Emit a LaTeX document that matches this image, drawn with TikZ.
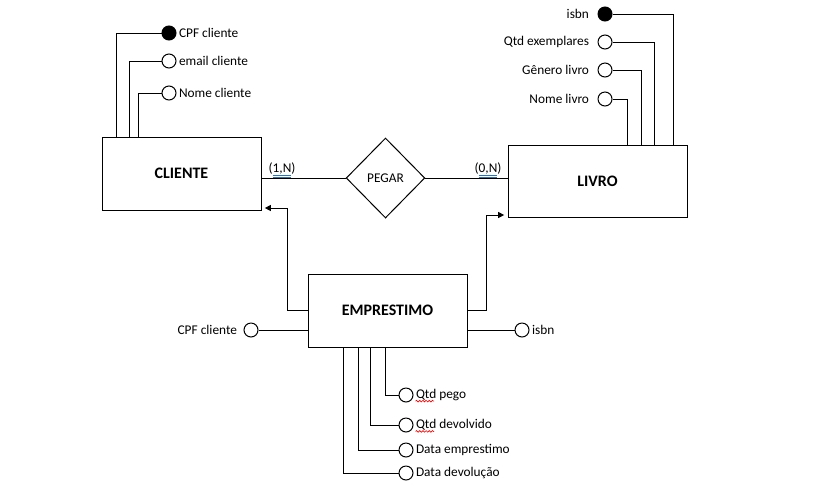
\documentclass[tikz,border=0pt]{standalone}
\usepackage{fontspec}
\setmainfont{Carlito}
\usetikzlibrary{shapes.geometric,positioning,arrows.meta,decorations.pathmorphing}
\definecolor{dblblue}{RGB}{46,116,181}
\newcommand{\DBL}[1]{\setbox0=\hbox{#1}\rlap{\color{dblblue}\rule[-2pt]{\wd0}{0.4pt}}\rlap{\color{dblblue}\rule[-3.3pt]{\wd0}{0.4pt}}\box0}

\begin{document}
\begin{tikzpicture}[x=0.75pt,y=-0.75pt,line width=0.75pt,font=\fontsize{10}{12}\selectfont,
   entity/.style={draw,rectangle,inner sep=0pt,font=\fontsize{12}{14}\selectfont\bfseries},
   rel/.style={draw,diamond,minimum width=59pt,minimum height=60pt,inner sep=0pt},
   attr/.style={draw,circle,minimum size=10.5pt,inner sep=0pt},
   keyattr/.style={attr,fill=black},
   lbl/.style={inner sep=1pt},
   arr/.style={-{Triangle[length=4.5pt,width=4.5pt]},shorten >=2.5pt},
   wavy/.style={red,line width=0.5pt,decorate,decoration={snake,amplitude=0.6pt,segment length=2.4pt}}]
   \useasboundingbox (0,0) rectangle (837,497);

   % entities and relationship
   \node (cliente) at (181.5,173.5) [entity,minimum width=119.25pt,minimum height=54.75pt] {CLIENTE};
   \node (livro) at (597.5,181) [entity,minimum width=134.25pt,minimum height=54pt] {LIVRO};
   \node (emprestimo) at (387.5,310.5) [entity,minimum width=119.25pt,minimum height=54.75pt] {EMPRESTIMO};
   \node (pegar) at (385.5,178) [rel] {PEGAR};
   \node (cardc) at (282,170) [lbl] {(\DBL{1,N})};
   \node (cardl) at (488,170) [lbl] {(\DBL{0,N})};
   \draw (pegar.west) -- (pegar.west -| cliente.east);
   \draw (pegar.east) -- (pegar.east -| livro.west);
   \draw[arr] (emprestimo.west) -| (287,208) -- (cliente.east |- 287,208);
   \draw[arr] (emprestimo.east) -| (486,215) -- (livro.west |- 486,215);

   % atributos cliente
   \node (c1) at (169,33) [keyattr] {};
   \node (c2) at (169,61) [attr] {};
   \node (c3) at (169,93) [attr] {};
   \node [lbl,right=0.5pt of c1] {CPF cliente};
   \node [lbl,right=0.5pt of c2] {email cliente};
   \node [lbl,right=0.5pt of c3] {Nome cliente};
   \draw (c1.west) -| (cliente.north -| 116,0);
   \draw (c2.west) -| (cliente.north -| 129,0);
   \draw (c3.west) -| (cliente.north -| 138,0);

   % atributos livro
   \node (l1) at (605,14) [keyattr] {};
   \node (l2) at (605,42) [attr] {};
   \node (l3) at (605,70) [attr] {};
   \node (l4) at (605,99) [attr] {};
   \node [lbl,left=5pt of l1] {isbn};
   \node [lbl,left=5pt of l2] {Qtd exemplares};
   \node [lbl,left=5pt of l3] {Gênero livro};
   \node [lbl,left=5pt of l4] {Nome livro};
   \draw (l1.east) -| (livro.north -| 673,0);
   \draw (l2.east) -| (livro.north -| 654,0);
   \draw (l3.east) -| (livro.north -| 641,0);
   \draw (l4.east) -| (livro.north -| 627,0);

   % atributos emprestimo
   \node (e1) at (251,330) [attr] {};
   \node (e2) at (522,330) [attr] {};
   \node [lbl,left=3.5pt of e1] {CPF cliente};
   \node [lbl,right=0.5pt of e2] {isbn};
   \draw (e1.east) -- (e1.east -| emprestimo.west);
   \draw (e2.west) -- (e2.west -| emprestimo.east);
   \node (e3) at (406,395) [attr] {};
   \node (e4) at (406,425) [attr] {};
   \node (e5) at (406,450) [attr] {};
   \node (e6) at (406,473) [attr] {};
   \node (e3t) [lbl,right=0.5pt of e3] {Qtd pego};
   \node (e4t) [lbl,right=0.5pt of e4] {Qtd devolvido};
   \node [lbl,right=0.5pt of e5] {Data emprestimo};
   \node [lbl,right=0.5pt of e6] {Data devolução};
   \draw (e3.west) -| (emprestimo.south -| 385,0);
   \draw (e4.west) -| (emprestimo.south -| 370,0);
   \draw (e5.west) -| (emprestimo.south -| 358,0);
   \draw (e6.west) -| (emprestimo.south -| 343,0);
   \draw[wavy] ([xshift=1pt,yshift=-2pt]e3t.base west) -- ++(14pt,0);
   \draw[wavy] ([xshift=1pt,yshift=-2pt]e4t.base west) -- ++(14pt,0);
  \end{tikzpicture}
\end{document}
